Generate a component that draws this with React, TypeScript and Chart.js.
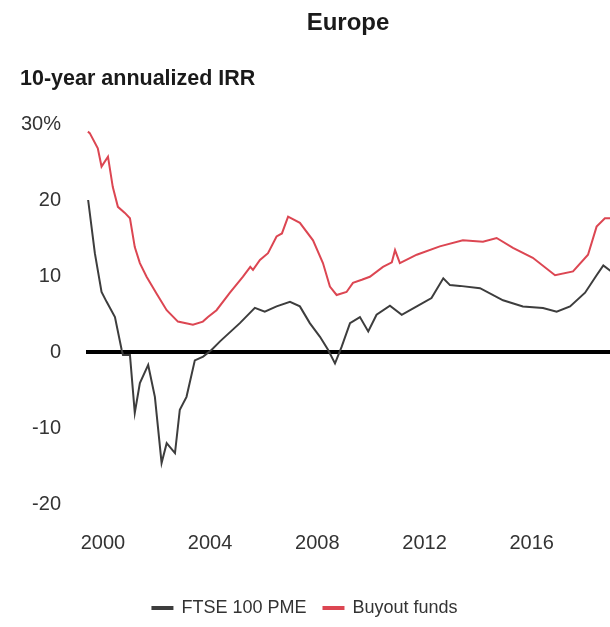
import React, { useEffect, useRef } from "react";
import { Chart, registerables } from "chart.js";

Chart.register(...registerables);

const titleText = "Europe";
const subtitleText = "10-year annualized IRR";
const xTickYears = [2000, 2004, 2008, 2012, 2016];
const yTickValues = [-20, -10, 0, 10, 20, 30];

const ftseYears = [
  1999.45, 1999.7, 1999.95, 2000.14, 2000.45, 2000.7, 2000.75, 2001.01, 2001.19, 2001.38,
  2001.69, 2001.94, 2002.19, 2002.38, 2002.69, 2002.87, 2003.12, 2003.43, 2003.74, 2004.06,
  2004.37, 2005.11, 2005.67, 2006.04, 2006.48, 2006.98, 2007.35, 2007.72, 2008.1, 2008.4,
  2008.66, 2008.91, 2009.22, 2009.59, 2009.9, 2010.21, 2010.71, 2011.15, 2011.71, 2012.26,
  2012.7, 2012.95, 2013.32, 2014.07, 2014.93, 2015.67, 2016.42, 2016.93, 2017.43, 2017.99,
  2018.42, 2018.67, 2019.0,
];
const ftseValues = [
  20.0, 13.0, 7.9, 6.6, 4.6, 0.3, -0.4, -0.4, -8.0, -4.1,
  -1.7, -5.9, -14.6, -12.0, -13.3, -7.6, -5.9, -1.1, -0.6, 0.3,
  1.4, 3.8, 5.8, 5.3, 6.0, 6.6, 6.0, 3.8, 2.0, 0.3,
  -1.5, 0.7, 3.8, 4.6, 2.7, 4.9, 6.1, 4.9, 6.0, 7.1,
  9.7, 8.8, 8.7, 8.4, 6.8, 6.0, 5.8, 5.3, 6.0, 7.8,
  10.1, 11.4, 10.5,
];

const buyoutYears = [
  1999.44, 1999.51, 1999.81, 1999.95, 2000.19, 2000.37, 2000.56, 2000.82, 2001.01, 2001.19,
  2001.38, 2001.63, 2002.0, 2002.38, 2002.8, 2003.36, 2003.73, 2003.92, 2004.24, 2004.74,
  2005.22, 2005.5, 2005.6, 2005.86, 2006.16, 2006.48, 2006.68, 2006.91, 2007.35, 2007.84,
  2008.21, 2008.47, 2008.72, 2009.09, 2009.33, 2009.66, 2009.96, 2010.45, 2010.78, 2010.9,
  2011.08, 2011.71, 2012.57, 2013.43, 2014.18, 2014.69, 2015.3, 2016.04, 2016.87, 2017.54,
  2018.1, 2018.42, 2018.73, 2019.0,
];
const buyoutValues = [
  29.0, 28.8, 26.8, 24.4, 25.7, 21.7, 19.1, 18.3, 17.6, 13.8,
  11.7, 9.9, 7.7, 5.5, 4.0, 3.6, 4.0, 4.6, 5.5, 7.8,
  9.9, 11.2, 10.8, 12.1, 13.0, 15.2, 15.6, 17.8, 17.0, 14.7,
  11.7, 8.6, 7.5, 7.9, 9.1, 9.5, 9.9, 11.2, 11.8, 13.4,
  11.7, 12.8, 13.9, 14.7, 14.5, 15.0, 13.7, 12.4, 10.1, 10.6,
  12.8, 16.5, 17.6, 17.6,
];

const FONT = "'Liberation Sans', Arial, sans-serif";

export default function App() {
  const ref = useRef<HTMLCanvasElement | null>(null);

  useEffect(() => {
    document.body.style.margin = "0";
    const canvas = ref.current;
    if (!canvas) return;

    const textPlugin = {
      id: "headerTexts",
      afterDraw(chart: any) {
        const ctx = chart.ctx;
        ctx.save();
        ctx.fillStyle = "#1a1a1a";
        ctx.textBaseline = "middle";
        ctx.textAlign = "center";
        ctx.font = `bold 24px ${FONT}`;
        ctx.fillText(titleText, (chart.chartArea.left + chart.chartArea.right) / 2, 23);
        ctx.textAlign = "left";
        ctx.font = `bold 21.5px ${FONT}`;
        ctx.fillText(subtitleText, 20, 79);
        ctx.restore();
      },
    };

    const chart = new Chart(canvas, {
      type: "line",
      data: {
        datasets: [
          {
            label: "FTSE 100 PME",
            data: ftseYears.map((x, i) => ({ x, y: ftseValues[i] })),
            borderColor: "#3d3d3d",
            backgroundColor: "#3d3d3d",
            borderWidth: 2,
            pointRadius: 0,
            tension: 0,
          },
          {
            label: "Buyout funds",
            data: buyoutYears.map((x, i) => ({ x, y: buyoutValues[i] })),
            borderColor: "#dc4652",
            backgroundColor: "#dc4652",
            borderWidth: 2,
            pointRadius: 0,
            tension: 0,
          },
        ],
      },
      options: {
        animation: false,
        responsive: false,
        layout: { padding: { top: 124, left: 0, right: 0, bottom: 0 } },
        plugins: {
          legend: {
            position: "bottom",
            labels: {
              font: { family: FONT, size: 18 },
              color: "#333",
              boxWidth: 20,
              boxHeight: 2,
              padding: 17,
            },
          },
          tooltip: { enabled: false },
          title: { display: false },
        },
        scales: {
          x: {
            type: "linear",
            min: 1999.37,
            max: 2018.92,
            afterBuildTicks: (scale: any) => {
              scale.ticks = xTickYears.map((v) => ({ value: v }));
            },
            ticks: {
              font: { family: FONT, size: 20 },
              color: "#333",
              padding: 27,
              maxRotation: 0,
              autoSkip: false,
              callback: (v: any) => String(v),
            },
            grid: { display: false, drawTicks: false },
            border: { display: false },
          },
          y: {
            min: -20,
            max: 30,
            z: 1,
            afterBuildTicks: (scale: any) => {
              scale.ticks = yTickValues.map((v) => ({ value: v }));
            },
            afterFit: (scale: any) => {
              scale.width = 86;
            },
            ticks: {
              font: { family: FONT, size: 20 },
              color: "#333",
              padding: 25,
              callback: (v: any) => (v === 30 ? "30%" : String(v)),
            },
            grid: {
              drawTicks: false,
              color: (c: any) => (c.tick && c.tick.value === 0 ? "#000" : "rgba(0,0,0,0)"),
              lineWidth: (c: any) => (c.tick && c.tick.value === 0 ? 4 : 0),
            },
            border: { display: false },
          },
        },
      },
      plugins: [textPlugin],
    });

    return () => chart.destroy();
  }, []);

  return (
    <div style={{ width: 610, height: 627, background: "#fff" }}>
      <canvas ref={ref} width={610} height={627} style={{ display: "block" }} />
    </div>
  );
}
